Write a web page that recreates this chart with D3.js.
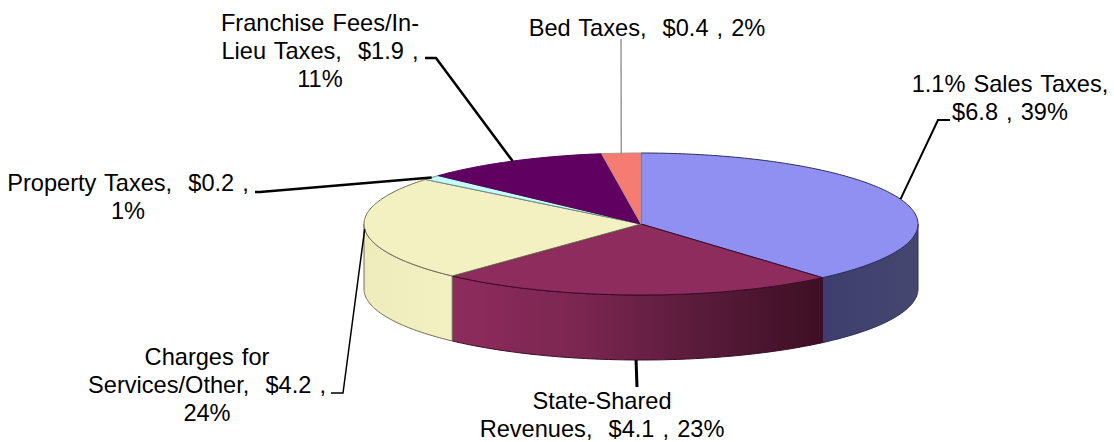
<!DOCTYPE html>
<html>
<head>
  <meta charset="utf-8">
  <title>Revenue sources pie</title>
  <script src="https://d3js.org/d3.v7.min.js" charset="utf-8"></script>
  <style>
    html, body { margin: 0; padding: 0; background: #fff; }
    svg { display: block; }
    text { font-family: "Liberation Sans", Arial, sans-serif; font-size: 23.6px; word-spacing: 1.5px; fill: #000; }
  </style>
</head>
<body>
  <script>
	// data, $ millions
	var categories = ["1.1% Sales Taxes", "State-Shared Revenues", "Charges for Services/Other", "Property Taxes", "Franchise Fees/In-Lieu Taxes", "Bed Taxes"];
	var values = [6.8, 4.1, 4.2, 0.2, 1.9, 0.4];
	var percents = ["39%", "23%", "24%", "1%", "11%", "2%"];
	var labelLines = [
		["1.1% Sales Taxes,", "$6.8 , 39%"],
		["State-Shared", "Revenues,  $4.1 , 23%"],
		["Charges for", "Services/Other,  $4.2 ,", "24%"],
		["Property Taxes,  $0.2 ,", "1%"],
		["Franchise Fees/In-", "Lieu Taxes,  $1.9 ,", "11%"],
		["Bed Taxes,  $0.4 , 2%"]
	];

	// layout and styles
	var w = 1114, h = 442;
	var cx = 641, cy = 224, rx = 277, ry = 71, depth = 65;
	var topColors = ["#9090f2", "#8f2c5e", "#f3f1c1", "#c6fbfd", "#600060", "#f67c72"];
	var edgeColors = ["#2c2c5c", "#3c0a28", "#6e6e58", "#6e8a8a", "#500050", "#b09090"];
	var labelX = [1010, 602, 207, 128, 320, 647];
	var labelY = [92, 409, 365, 191, 31, 36];
	var leaderElbows = [[[938, 120], [950, 120]], [[637, 387]], [[343, 393], [331, 393]], [[260, 192], [255, 192]], [[436, 58], [425, 58]], [[621, 39]]];
	var leaderWidths = [2, 3, 1.5, 2.5, 2.5, 1.2];
	var leaderColors = ["#000", "#000", "#000", "#000", "#000", "#808080"];

	var svg = d3.select("body").append("svg").attr("width", w).attr("height", h);
	var defs = svg.append("defs");

	var arcs = d3.pie().sort(null).value(function(d) { return d; })(values);

	var xScale = d3.scaleLinear().domain([-1, 1]).range([cx - rx, cx + rx]);
	var yScale = d3.scaleLinear().domain([-1, 1]).range([cy - ry, cy + ry]);

	// angle clockwise from top -> point on the top ellipse
	function pt(a, drop) {
		return [xScale(Math.sin(a)), yScale(-Math.cos(a)) + (drop || 0)];
	}
	function rim(a0, a1, drop) {
		var n = Math.max(2, Math.ceil((a1 - a0) * 60)), out = [];
		d3.range(n + 1).forEach(function(i) {
			out.push(pt(a0 + (a1 - a0) * i / n, drop));
		});
		return out;
	}
	var line = d3.line();

	function wallGradient(id, stops) {
		var g = defs.append("linearGradient").attr("id", id);
		stops.forEach(function(s) {
			g.append("stop").attr("offset", s[0]).attr("stop-color", s[1]);
		});
	}
	wallGradient("wall0", [[0, "#3d3e6e"], [1, "#45476f"]]);
	wallGradient("wall1", [[0, "#8e2c5d"], [0.35, "#7a2650"], [0.7, "#561a38"], [1, "#3e0f24"]]);
	wallGradient("wall2", [[0, "#eeecbc"], [1, "#f3f1c1"]]);

	// side walls, only the front half of the ellipse shows
	arcs.forEach(function(d, i) {
		var a0 = Math.max(d.startAngle, Math.PI / 2);
		var a1 = Math.min(d.endAngle, Math.PI * 1.5);
		if (a1 <= a0) return;
		var upper = rim(a0, a1, 0);
		var lower = rim(a0, a1, depth).reverse();
		svg.append("path")
			.attr("d", line(upper.concat(lower)) + "Z")
			.attr("fill", "url(#wall" + i + ")")
			.attr("stroke", edgeColors[i])
			.attr("stroke-width", 1);
	});

	// top face
	svg.selectAll("path.slice").data(arcs).enter()
		.append("path")
		.attr("class", "slice")
		.attr("d", function(d) {
			return line([[cx, cy]].concat(rim(d.startAngle, d.endAngle, 0))) + "Z";
		})
		.attr("fill", function(d, i) { return topColors[i]; })
		.attr("stroke", function(d, i) { return edgeColors[i]; })
		.attr("stroke-width", 1);

	// leader lines start from the middle of each slice's rim
	arcs.forEach(function(d, i) {
		var mid = (d.startAngle + d.endAngle) / 2;
		var drop = i == 1 ? depth : 0;
		svg.append("path")
			.attr("d", line([pt(mid, drop)].concat(leaderElbows[i])))
			.attr("fill", "none")
			.attr("stroke", leaderColors[i])
			.attr("stroke-width", leaderWidths[i]);
	});

	// labels
	labelLines.forEach(function(lines, i) {
		var t = svg.append("text").attr("text-anchor", "middle");
		lines.forEach(function(s, j) {
			t.append("tspan")
				.style("white-space", "pre")
				.attr("x", labelX[i])
				.attr("y", labelY[i] + j * 28)
				.text(s);
		});
	});
  </script>
</body>
</html>
